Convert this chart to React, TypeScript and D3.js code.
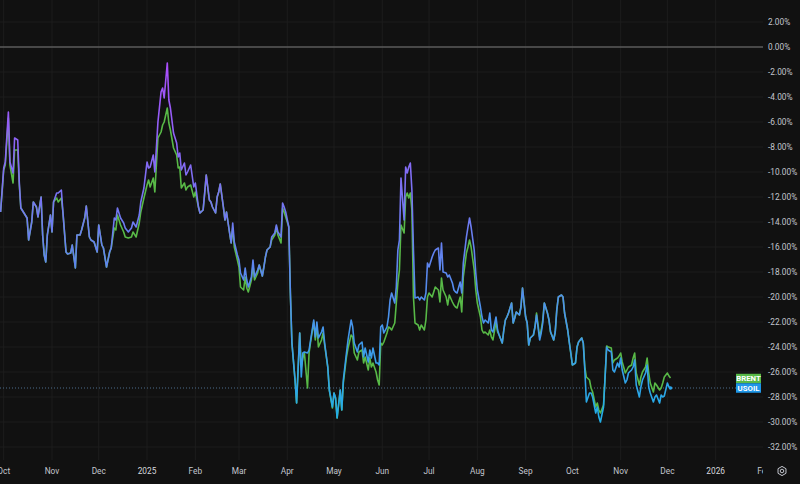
import React from 'react';
import * as d3 from 'd3';

const W = 800;
const H = 484;
const PLOT_R = 763;
const PLOT_B = 460;

// day offsets from 2024-09-25 (UTC) for each point
const BASE_DATE = Date.UTC(2024, 8, 25);
const dayOffset = [
  4, 6, 7, 9, 10, 12, 13, 15, 16, 17,
  19, 21, 22, 24, 25, 27, 28, 30, 31, 32,
  33, 34, 36, 37, 38, 40, 41, 43, 44, 46,
  47, 49, 50, 52, 53, 55, 56, 58, 59, 61,
  62, 64, 66, 67, 69, 70, 72, 74, 75, 77,
  78, 79, 81, 83, 84, 86, 88, 89, 91, 93,
  94, 96, 98, 99, 100, 102, 103, 104, 105, 107,
  108, 109, 111, 112, 113, 115, 117, 118, 119, 120,
  122, 123, 124, 126, 128, 129, 131, 132, 134, 135,
  136, 138, 139, 140, 142, 143, 144, 145, 147, 148,
  149, 151, 152, 153, 154, 156, 157, 158, 160, 161,
  162, 163, 165, 166, 167, 169, 170, 172, 173, 174,
  175, 177, 178, 180, 181, 182, 184, 185, 186, 187,
  189, 190, 191, 193, 194, 196, 197, 198, 199, 201,
  202, 203, 205, 206, 207, 208, 210, 211, 212, 214,
  215, 217, 218, 219, 220, 222, 223, 224, 226, 227,
  229, 230, 231, 233, 234, 236, 237, 238, 240, 241,
  242, 243, 245, 246, 247, 248, 249, 250, 252, 253,
  254, 255, 257, 258, 259, 260, 261, 263, 264, 265,
  266, 267, 268, 269, 270, 272, 273, 274, 276, 277,
  278, 279, 281, 282, 283, 285, 286, 287, 288, 290,
  291, 292, 294, 295, 296, 297, 299, 300, 301, 303,
  304, 305, 306, 308, 309, 310, 312, 313, 314, 315,
  317, 318, 319, 320, 322, 323, 324, 326, 327, 328,
  329, 330, 332, 333, 334, 335, 337, 338, 339, 341,
  342, 343, 344, 346, 347, 348, 350, 351, 352, 353,
  355, 356, 357, 359, 360, 361, 362, 364, 365, 366,
  368, 369, 370, 371, 373, 374, 375, 377, 378, 379,
  380, 382, 383, 384, 386, 387, 388, 389, 391, 392,
  393, 394, 396, 397, 398, 400, 401, 402, 403, 405,
  406, 407, 409, 410, 411, 412, 414, 415, 416, 418,
  419, 420, 421, 423, 424, 425, 427, 428, 429, 430,
  432, 433, 434,
];

const usoil = [
  -13.2, -9.68, -9.2, -5.2, -9.2, -10.08, -7.28, -7.44, -10.8, -12.88,
  -13.28, -13.68, -15.44, -14.0, -12.4, -12.8, -13.6, -12.0, -15.04, -16.64,
  -17.2, -15.04, -13.44, -14.8, -12.4, -11.68, -11.68, -11.44, -13.2, -16.4,
  -16.56, -16.48, -15.84, -17.68, -15.04, -15.04, -14.64, -13.68, -12.72, -15.2,
  -15.44, -15.6, -16.4, -14.24, -15.84, -16.08, -17.6, -16.4, -16.08, -13.68,
  -13.84, -12.88, -13.68, -14.08, -14.48, -14.8, -14.48, -14.0, -14.4, -13.44,
  -12.4, -11.28, -9.2, -9.68, -9.6, -8.64, -10.0, -8.08, -6.0, -3.6,
  -3.28, -4.08, -1.28, -4.24, -4.88, -6.88, -7.68, -8.8, -8.48, -9.84,
  -9.28, -10.24, -10.0, -9.44, -11.2, -10.88, -12.8, -13.28, -13.04, -11.68,
  -10.24, -12.24, -12.4, -12.8, -13.28, -12.0, -11.6, -10.96, -12.8, -13.84,
  -13.2, -14.88, -15.68, -14.08, -15.6, -16.64, -17.04, -18.08, -18.64, -17.68,
  -18.64, -19.2, -18.4, -17.04, -18.4, -17.84, -17.44, -18.32, -17.6, -16.8,
  -16.24, -16.0, -15.2, -14.88, -14.24, -14.8, -15.2, -12.48, -12.8, -13.2,
  -14.4, -19.68, -23.68, -26.64, -28.48, -22.88, -26.4, -24.48, -24.4, -24.48,
  -24.24, -23.44, -21.84, -23.2, -22.0, -23.28, -22.8, -22.4, -23.68, -25.6,
  -27.44, -28.8, -27.68, -28.08, -29.68, -27.44, -29.04, -26.64, -24.48, -23.44,
  -21.84, -22.4, -23.68, -24.4, -23.84, -23.6, -24.8, -24.08, -25.2, -24.24,
  -24.88, -24.08, -25.28, -25.28, -25.44, -22.4, -22.24, -22.88, -22.4, -21.6,
  -20.24, -19.68, -20.48, -19.2, -16.24, -15.44, -10.48, -13.84, -9.6, -10.08,
  -9.6, -9.28, -11.44, -16.24, -20.08, -20.0, -20.24, -20.0, -20.24, -19.68,
  -17.28, -17.6, -16.8, -16.48, -16.24, -16.08, -17.84, -15.68, -18.0, -18.08,
  -18.4, -18.24, -18.88, -19.44, -19.6, -19.68, -18.8, -19.68, -17.28, -15.2,
  -14.4, -13.68, -14.4, -16.24, -18.08, -19.44, -20.8, -21.6, -22.08, -21.84,
  -22.08, -21.28, -22.64, -22.8, -21.6, -22.64, -23.04, -23.68, -22.64, -21.84,
  -21.6, -21.28, -20.48, -22.08, -21.68, -21.2, -21.44, -20.8, -19.28, -21.6,
  -22.08, -23.84, -23.28, -23.04, -22.4, -21.44, -23.44, -22.88, -22.08, -20.48,
  -21.28, -21.84, -22.8, -23.44, -22.8, -21.04, -20.0, -19.84, -20.0, -21.28,
  -22.64, -23.6, -24.48, -25.44, -25.28, -24.0, -23.6, -23.28, -23.68, -25.84,
  -28.4, -27.68, -27.68, -28.0, -29.28, -28.8, -29.6, -30.0, -28.8, -26.4,
  -24.0, -24.24, -24.4, -25.84, -26.0, -25.28, -25.6, -24.88, -25.84, -26.88,
  -26.64, -26.08, -25.84, -25.6, -25.04, -27.04, -28.0, -27.2, -26.64, -26.08,
  -25.44, -27.2, -27.68, -28.4, -28.0, -27.84, -28.48, -27.84, -28.0, -27.92,
  -26.88, -27.2, -27.28,
];

const brent = [
  -13.2, -9.84, -9.44, -5.68, -9.44, -10.88, -8.24, -8.24, -11.04, -12.88,
  -13.28, -13.68, -15.44, -14.0, -12.4, -12.8, -13.6, -12.0, -15.04, -16.64,
  -17.2, -15.04, -13.44, -14.8, -12.4, -12.08, -12.4, -12.08, -13.2, -16.4,
  -16.56, -16.48, -15.84, -17.68, -15.04, -15.04, -14.64, -13.68, -12.72, -15.2,
  -15.44, -15.6, -16.4, -14.24, -15.84, -16.08, -17.6, -16.4, -16.08, -14.48,
  -14.64, -13.44, -14.24, -14.8, -15.2, -15.28, -15.2, -14.8, -15.2, -14.08,
  -13.2, -12.08, -11.04, -10.64, -11.2, -10.48, -11.6, -9.44, -7.28, -6.8,
  -6.24, -6.0, -4.88, -6.08, -6.64, -8.08, -8.64, -9.68, -9.6, -11.28,
  -10.88, -11.44, -11.2, -11.04, -12.0, -11.6, -12.8, -13.28, -13.04, -11.68,
  -10.24, -12.24, -12.4, -12.8, -13.28, -12.0, -11.6, -10.96, -12.8, -13.84,
  -13.2, -14.88, -15.68, -14.48, -16.0, -17.04, -17.6, -19.2, -19.44, -18.4,
  -19.28, -19.6, -18.64, -17.44, -18.64, -18.08, -17.44, -18.32, -17.6, -16.8,
  -16.24, -16.0, -15.44, -15.04, -14.4, -15.04, -15.68, -12.88, -13.2, -13.6,
  -14.4, -19.68, -23.68, -26.64, -28.48, -22.88, -25.6, -24.88, -24.48, -27.28,
  -24.48, -23.6, -22.0, -23.44, -22.24, -24.0, -23.44, -22.88, -23.84, -25.6,
  -27.44, -28.88, -27.68, -28.08, -29.68, -27.44, -29.04, -26.88, -24.8, -24.08,
  -23.04, -23.2, -24.48, -25.04, -24.4, -24.24, -25.28, -24.8, -25.84, -24.88,
  -25.6, -25.28, -26.0, -26.64, -27.04, -23.68, -23.84, -23.6, -22.88, -22.4,
  -22.48, -22.64, -22.08, -20.48, -18.88, -17.84, -14.24, -14.88, -12.0, -11.68,
  -12.08, -11.68, -13.04, -20.0, -22.08, -22.24, -22.64, -22.24, -22.64, -21.84,
  -20.0, -19.68, -20.0, -19.6, -19.2, -19.44, -20.4, -18.48, -19.44, -20.0,
  -20.64, -19.84, -20.4, -20.64, -20.8, -20.88, -20.0, -21.2, -18.4, -16.48,
  -16.0, -15.44, -16.0, -17.84, -19.44, -20.48, -21.6, -22.64, -22.88, -22.8,
  -23.04, -22.64, -23.2, -23.44, -22.0, -22.8, -23.04, -23.68, -22.64, -21.84,
  -21.6, -21.28, -20.48, -22.08, -21.68, -21.2, -21.44, -20.8, -19.28, -21.6,
  -22.08, -23.84, -23.28, -23.04, -22.4, -21.28, -23.2, -22.64, -21.84, -20.48,
  -21.28, -21.84, -22.8, -23.44, -22.8, -21.04, -20.0, -19.84, -20.0, -21.28,
  -22.64, -23.6, -24.48, -25.44, -25.28, -24.0, -23.6, -23.28, -23.68, -25.6,
  -26.4, -26.64, -27.28, -27.6, -28.8, -28.48, -29.04, -29.28, -28.64, -26.4,
  -23.92, -24.0, -24.08, -25.28, -25.04, -24.88, -24.72, -24.48, -25.2, -26.08,
  -25.84, -25.6, -25.44, -24.88, -24.48, -26.08, -27.04, -26.4, -26.0, -25.6,
  -24.88, -26.08, -26.88, -27.6, -26.88, -27.04, -27.44, -27.28, -26.88, -26.4,
  -26.08, -26.32, -26.48,
];

const yTicks = [4, 2, 0, -2, -4, -6, -8, -10, -12, -14, -16, -18, -20, -22, -24, -26, -28, -30, -32];
const seriesLabels = ['BRENT', 'USOIL'];
const seriesColors = ['#58b947', '#1e96e8'];

const FONT = 'Roboto, "Liberation Sans", sans-serif';
const TEXT = '#c3c6ce';

export default function App() {
  const x = d3
    .scaleUtc()
    .domain([new Date(Date.UTC(2024, 10, 1)), new Date(Date.UTC(2025, 11, 1))])
    .range([52, 667.4]);
  const y = d3.scaleLinear().domain([0, -32]).range([47, 447]);

  const dates = dayOffset.map((d) => new Date(BASE_DATE + d * 86400000));
  const line = d3
    .line<number>()
    .x((_, i) => x(dates[i]))
    .y((v) => y(v));

  const months = d3.utcMonth.range(new Date(Date.UTC(2024, 9, 1)), new Date(Date.UTC(2026, 2, 1)));
  const fmtMonth = d3.utcFormat('%b');
  const monthLabel = (d: Date) => (d.getUTCMonth() === 0 ? String(d.getUTCFullYear()) : fmtMonth(d));

  const lastU = usoil[usoil.length - 1];
  const yLast = y(lastU);
  const boxW = 25;
  const boxH = 9.5;
  const boxX = 736;

  const hex = d3.range(6).map((k) => {
    const a = (Math.PI / 3) * k + Math.PI / 6;
    return [782 + 4.6 * Math.cos(a), 471 + 4.6 * Math.sin(a)];
  });

  return (
    <svg
      width={W}
      height={H}
      style={{ position: 'absolute', left: 0, top: 0, display: 'block' }}
      fontFamily={FONT}
    >
      <defs>
        <clipPath id="plot">
          <rect x={0} y={0} width={PLOT_R} height={PLOT_B} />
        </clipPath>
        <clipPath id="timeaxis">
          <rect x={0} y={PLOT_B} width={PLOT_R} height={H - PLOT_B} />
        </clipPath>
        <linearGradient id="usoilGrad" gradientUnits="userSpaceOnUse" x1={0} y1={y(-1)} x2={0} y2={y(-30)}>
          <stop offset="0%" stopColor="#ab4cfb" />
          <stop offset="40%" stopColor="#7576f2" />
          <stop offset="100%" stopColor="#20aee6" />
        </linearGradient>
      </defs>
      <rect x={0} y={0} width={W} height={H} fill="#111111" />

      <g clipPath="url(#plot)">
        {months.map((m, i) => (
          <line key={'vg' + i} x1={x(m)} x2={x(m)} y1={0} y2={PLOT_B} stroke="#1d1d1d" strokeWidth={1} />
        ))}
        {yTicks.map((t) => (
          <line key={'hg' + t} x1={0} x2={PLOT_R} y1={y(t)} y2={y(t)} stroke="#1d1d1d" strokeWidth={1} />
        ))}
        <line x1={0} x2={PLOT_R} y1={y(0)} y2={y(0)} stroke="#7a7a7a" strokeWidth={1} />
        <line
          x1={0}
          x2={boxX}
          y1={yLast}
          y2={yLast}
          stroke="#4d6d8c"
          strokeWidth={1}
          strokeDasharray="1 2"
        />
        <path d={line(brent) || ''} fill="none" stroke={seriesColors[0]} strokeWidth={1.6} strokeLinejoin="round" />
        <path d={line(usoil) || ''} fill="none" stroke="url(#usoilGrad)" strokeWidth={1.6} strokeLinejoin="round" />
        <circle cx={x(dates[dates.length - 1])} cy={yLast} r={1.8} fill="#2aa4e8" />
      </g>

      {seriesLabels.map((name, i) => (
        <g key={name}>
          <rect
            x={boxX}
            y={yLast - boxH / 2 - (1 - i) * boxH}
            width={boxW}
            height={boxH}
            fill={seriesColors[i]}
          />
          <text
            x={boxX + boxW / 2}
            y={yLast - (1 - i) * boxH}
            dy="0.36em"
            textAnchor="middle"
            fontSize={7.8}
            fontWeight={700}
            fill="#ffffff"
          >
            {name}
          </text>
        </g>
      ))}

      {yTicks.map((t) => (
        <text key={'yl' + t} x={768} y={y(t)} dy="0.35em" fontSize={8.3} fill={TEXT}>
          {t.toFixed(2) + '%'}
        </text>
      ))}

      <g clipPath="url(#timeaxis)">
        {months.map((m, i) => (
          <text
            key={'xl' + i}
            x={x(m)}
            y={474}
            textAnchor="middle"
            fontSize={8.3}
            fill={m.getUTCMonth() === 0 ? '#d6d8de' : TEXT}
          >
            {monthLabel(m)}
          </text>
        ))}
      </g>

      <polygon points={hex.map((p) => p.join(',')).join(' ')} fill="none" stroke={TEXT} strokeWidth={1} />
      <circle cx={782} cy={471} r={1.8} fill="none" stroke={TEXT} strokeWidth={1} />
    </svg>
  );
}
